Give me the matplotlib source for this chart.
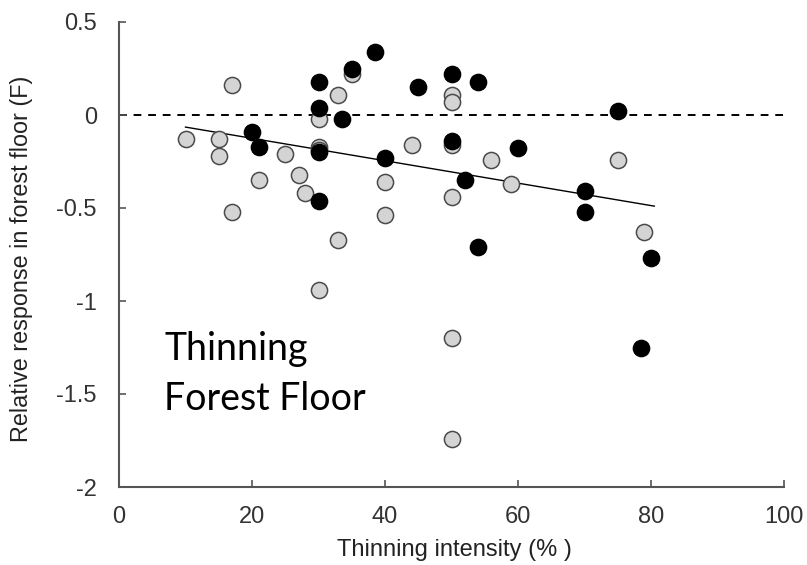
import matplotlib
matplotlib.use("Agg")
import matplotlib.pyplot as plt

# thinning intensity (%) and relative response, two groups
gray_x = [10, 15, 15, 17, 17, 21, 25, 27, 28, 30, 30, 30, 30, 33, 33, 35,
          40, 40, 44, 50, 50, 50, 50, 50, 50, 56, 59, 75, 79]
gray_y = [-0.13, -0.13, -0.22, 0.16, -0.52, -0.35, -0.21, -0.32, -0.42, -0.02,
          -0.17, -0.19, -0.94, 0.11, -0.67, 0.22, -0.36, -0.54, -0.16, 0.11,
          0.07, -0.16, -0.44, -1.20, -1.74, -0.24, -0.37, -0.24, -0.63]

black_x = [20, 21, 30, 30, 30, 30, 33.5, 35, 38.5, 40, 45, 50, 50, 52, 54,
           54, 60, 70, 70, 75, 78.5, 80]
black_y = [-0.09, -0.17, 0.18, 0.04, -0.20, -0.46, -0.02, 0.25, 0.34, -0.23,
           0.15, 0.22, -0.14, -0.35, 0.18, -0.71, -0.18, -0.41, -0.52, 0.02,
           -1.25, -0.77]

# regression line endpoints
trend_x = [10, 80.5]
trend_y = [-0.065, -0.49]

FONT = "Liberation Sans"

fig = plt.figure(figsize=(8.07, 5.65), dpi=100)
ax = fig.add_axes([119 / 807, 1 - 487 / 565, 665 / 807, 465 / 565])

ax.axhline(0, color="black", lw=1.4, ls=(0, (4, 3.5)), zorder=1)
ax.plot(trend_x, trend_y, color="black", lw=1.0, zorder=2)
ax.scatter(gray_x, gray_y, s=135, c="#d4d4d4", edgecolors="#4a4a4a",
           linewidths=1.1, zorder=3)
ax.scatter(black_x, black_y, s=135, c="black", edgecolors="black",
           linewidths=1.1, zorder=4)

ax.set_xlim(0, 100)
ax.set_ylim(-2, 0.5)
ax.set_xticks(range(0, 101, 20))
ax.set_yticks([0.5, 0, -0.5, -1, -1.5, -2])
ax.set_yticklabels(["0.5", "0", "-0.5", "-1", "-1.5", "-2"])
for s in ("top", "right"):
    ax.spines[s].set_visible(False)
for s in ("left", "bottom"):
    ax.spines[s].set_color("#555555")
    ax.spines[s].set_linewidth(1.5)
ax.tick_params(direction="in", length=5, width=1.2, color="#555555",
               labelsize=17)
ax.tick_params(axis="x", pad=14)
ax.tick_params(axis="y", pad=16)
for lab in ax.get_xticklabels() + ax.get_yticklabels():
    lab.set_fontfamily(FONT)
    lab.set_color("#333333")

ax.set_xlabel("Thinning intensity (% )", fontsize=17, family=FONT,
              color="#222222")
ax.xaxis.set_label_coords(0.504, -0.112)
ax.set_ylabel("Relative response in forest floor (F)", fontsize=16.8,
              family=FONT, color="#222222")
ax.yaxis.set_label_coords(-0.13, 0.49)

ax.text(6.8, -1.315, "Thinning", fontsize=27, family="Lato",
        color="black", va="baseline", ha="left")
ax.text(6.8, -1.585, "Forest Floor", fontsize=27, family="Lato",
        color="black", va="baseline", ha="left")

fig.savefig("out.png", dpi=100)
